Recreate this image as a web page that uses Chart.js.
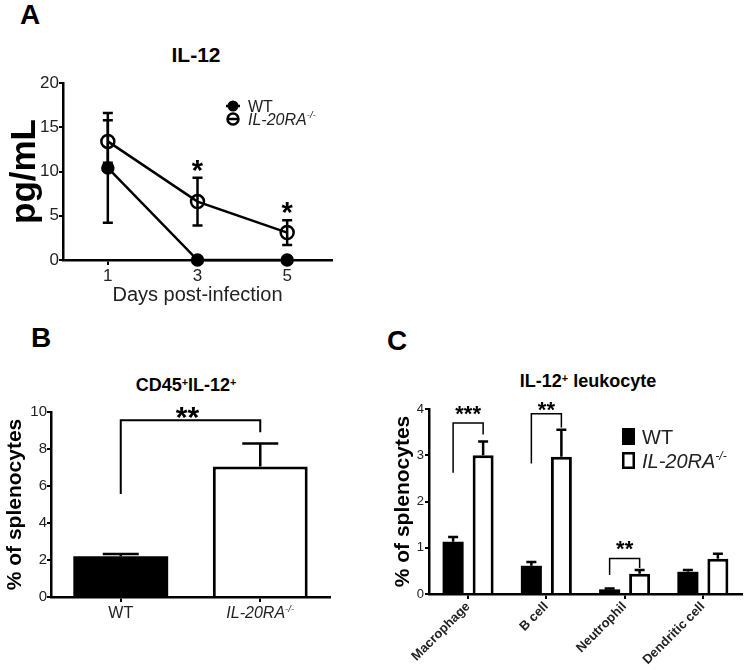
<!DOCTYPE html>
<html>
<head>
<meta charset="utf-8">
<script src="https://cdn.jsdelivr.net/npm/chart.js@4.4.1/dist/chart.umd.min.js"></script>
<style>
  body { margin: 0; background: #fff; }
  #fig { position: relative; width: 749px; height: 670px; overflow: hidden; font-family: "Liberation Sans", Arial, sans-serif; color: #000; }
  #fig canvas { position: absolute; }
  .t { position: absolute; font-weight: bold; line-height: 1; white-space: nowrap; }
  .c { transform: translateX(-50%); }
  sup { font-size: 60%; vertical-align: 0; position: relative; top: -0.5em; }
</style>
</head>
<body>
<div id="fig">
  <div class="t" style="left:20px;top:1px;font-size:28px">A</div>
  <div class="t c" style="left:196px;top:44px;font-size:21px">IL-12</div>
  <div class="t" style="left:31px;top:324px;font-size:28px">B</div>
  <div class="t c" style="left:186px;top:376px;font-size:18px">CD45<sup>+</sup>IL-12<sup>+</sup></div>
  <div class="t" style="left:387px;top:327px;font-size:28px">C</div>
  <div class="t c" style="left:588px;top:372px;font-size:18px">IL-12<sup>+</sup> leukocyte</div>
  <canvas id="chartA" width="380" height="320" style="left:0;top:0"></canvas>
  <canvas id="chartB" width="380" height="340" style="left:0;top:330px"></canvas>
  <canvas id="chartC" width="369" height="340" style="left:380px;top:330px"></canvas>
</div>
<script>
// Panel A - serum IL-12 over time
const days = [1, 3, 5];
const dayTicks = [1, 3, 5];
const wtPg = [10.4, 0, 0];
const wtPgErr = [6.2, 0, 0];
const koPg = [13.4, 6.6, 3.1];
const koPgErr = [2.4, 2.7, 1.4];
const starsA = [{ x: 3, y: 10.9 }, { x: 5, y: 6.1 }];

// Panel B - CD45+IL-12+ cells
const groupsB = ["WT", "IL-20RA"];
const pctB = [2.2, 7.05];
const pctBErr = [0.13, 1.25];
const bracketB = { top: 9.55, left: 5.57, right: 8.9, star: "**", starY: 10.1 };

// Panel C - IL-12+ leukocyte subsets
const cellTypes = ["Macrophage", "B cell", "Neutrophil", "Dendritic cell"];
const wtC = [1.13, 0.61, 0.1, 0.48];
const wtCErr = [0.1, 0.08, 0.02, 0.04];
const koC = [3.0, 2.97, 0.44, 0.76];
const koCErr = [0.3, 0.58, 0.08, 0.11];
const bracketsC = [
    { cat: 0, top: 3.7, left: 2.62, right: 3.45, star: "***", starY: 4.0 },
    { cat: 1, top: 3.9, left: 2.82, right: 3.6, star: "**", starY: 4.1 },
    { cat: 2, top: 0.77, left: 0.41, right: 0.56, star: "**", starY: 1.08 },
];

const black = "#000";
const ink = "#222";
const FONT = '"Liberation Sans", Arial, sans-serif';
Chart.defaults.font.family = FONT;
Chart.defaults.color = ink;
Chart.defaults.animation = false;
Chart.defaults.plugins.legend.display = false;
Chart.defaults.plugins.tooltip.enabled = false;

// text with italic / superscript pieces, y = baseline
function richText(ctx, x, y, parts, size, align) {
    const fontOf = (p) =>
        (p.i ? "italic " : "") + (p.b ? "bold " : "") + (p.s ? size * 0.6 : size) + "px " + FONT;
    let w = 0;
    parts.forEach((p) => { ctx.font = fontOf(p); w += ctx.measureText(p.t).width; });
    let cx = align === "center" ? x - w / 2 : align === "right" ? x - w : x;
    ctx.textAlign = "left";
    ctx.textBaseline = "alphabetic";
    parts.forEach((p) => {
        ctx.font = fontOf(p);
        ctx.fillText(p.t, cx, p.s ? y - size * 0.4 : y);
        cx += ctx.measureText(p.t).width;
    });
}
const koLabel = [{ t: "IL-20RA", i: true }, { t: "-/-", i: true, s: true }];

function star(ctx, x, yMid, text, size) {
    ctx.font = "bold " + size + "px " + FONT;
    ctx.textAlign = "center";
    ctx.textBaseline = "alphabetic";
    ctx.fillStyle = black;
    ctx.fillText(text, x, yMid + size * 0.56);
}

// error bars from dataset.errors, "up" or both directions
const errorBars = {
    id: "errorBars",
    afterDatasetsDraw(chart) {
        const ctx = chart.ctx;
        const y = chart.scales.y;
        chart.data.datasets.forEach((ds, di) => {
            if (!ds.errors) return;
            const meta = chart.getDatasetMeta(di);
            meta.data.forEach((el, i) => {
                const e = ds.errors[i];
                if (!e) return;
                const raw = ds.data[i];
                const v = typeof raw === "object" ? raw.y : raw;
                const x = el.x;
                const top = y.getPixelForValue(v + e);
                const bot = y.getPixelForValue(ds.errorMode === "up" ? v : v - e);
                const cap = ds.capWidth / 2;
                ctx.save();
                ctx.strokeStyle = black;
                ctx.lineWidth = 2.5;
                ctx.beginPath();
                ctx.moveTo(x, bot);
                ctx.lineTo(x, top);
                ctx.moveTo(x - cap, top);
                ctx.lineTo(x + cap, top);
                if (ds.errorMode !== "up") {
                    ctx.moveTo(x - cap, bot);
                    ctx.lineTo(x + cap, bot);
                }
                ctx.stroke();
                ctx.restore();
            });
        });
    },
};

function bracket(ctx, yScale, x1, x2, b, lw) {
    ctx.save();
    ctx.strokeStyle = black;
    ctx.lineWidth = lw;
    ctx.beginPath();
    ctx.moveTo(x1, yScale.getPixelForValue(b.left));
    ctx.lineTo(x1, yScale.getPixelForValue(b.top));
    ctx.lineTo(x2, yScale.getPixelForValue(b.top));
    ctx.lineTo(x2, yScale.getPixelForValue(b.right));
    ctx.stroke();
    ctx.restore();
}

const gridTicks = (len) => ({ drawOnChartArea: false, color: black, lineWidth: 2, tickLength: len, offset: false });
const axisBorder = { color: black, width: 2.5 };

// ---------- Panel A ----------
new Chart(document.getElementById("chartA"), {
    type: "line",
    data: {
        datasets: [
            {
                label: "WT",
                data: days.map((d, i) => ({ x: d, y: wtPg[i] })),
                errors: wtPgErr,
                capWidth: 10,
                borderColor: black,
                borderWidth: 2.5,
                pointRadius: 5.5,
                pointBackgroundColor: black,
                pointBorderColor: black,
                clip: false,
            },
            {
                label: "IL-20RA-/-",
                data: days.map((d, i) => ({ x: d, y: koPg[i] })),
                errors: koPgErr,
                capWidth: 10,
                borderColor: black,
                borderWidth: 2.5,
                pointRadius: 6.5,
                pointBorderWidth: 2.5,
                pointBackgroundColor: "rgba(0,0,0,0)",
                pointBorderColor: black,
                clip: false,
            },
        ],
    },
    options: {
        responsive: false,
        layout: { padding: { top: 83, right: 48, bottom: 10, left: 0 } },
        scales: {
            x: {
                type: "linear",
                min: 0,
                max: 6,
                afterBuildTicks: (s) => { s.ticks = dayTicks.map((v) => ({ value: v })); },
                afterFit: (s) => { s.height = 50; },
                grid: gridTicks(5),
                border: axisBorder,
                ticks: { font: { size: 17 }, padding: 1 },
                title: { display: true, text: "Days post-infection", font: { size: 20 }, padding: { top: 0, bottom: 3 } },
            },
            y: {
                min: 0,
                max: 20,
                afterFit: (s) => { s.width = 63; },
                grid: gridTicks(4),
                border: axisBorder,
                ticks: { stepSize: 5, font: { size: 17 }, padding: 0 },
                title: { display: true, text: "pg/mL", color: black, font: { size: 35, weight: "bold" }, padding: 4 },
            },
        },
    },
    plugins: [
        errorBars,
        {
            id: "annotA",
            afterDraw(chart) {
                const ctx = chart.ctx;
                starsA.forEach((s) => {
                    star(ctx, chart.scales.x.getPixelForValue(s.x), chart.scales.y.getPixelForValue(s.y), "*", 29);
                });
                // legend
                ctx.save();
                ctx.strokeStyle = black;
                ctx.fillStyle = black;
                ctx.lineWidth = 2.5;
                ctx.beginPath();
                ctx.arc(233, 106, 5.5, 0, Math.PI * 2);
                ctx.fill();
                ctx.beginPath();
                ctx.moveTo(226, 106);
                ctx.lineTo(240, 106);
                ctx.stroke();
                ctx.beginPath();
                ctx.arc(233, 119, 5.5, 0, Math.PI * 2);
                ctx.moveTo(228, 119);
                ctx.lineTo(238, 119);
                ctx.stroke();
                ctx.fillStyle = ink;
                richText(ctx, 248, 106 + 16 * 0.358, [{ t: "WT" }], 16, "left");
                richText(ctx, 248, 119 + 16 * 0.358, koLabel, 16, "left");
                ctx.restore();
            },
        },
    ],
});

// ---------- Panel B ----------
new Chart(document.getElementById("chartB"), {
    type: "bar",
    data: {
        labels: groupsB,
        datasets: [
            {
                data: pctB,
                errors: pctBErr,
                errorMode: "up",
                capWidth: 36,
                backgroundColor: ["#000", "#fff"],
                borderColor: black,
                borderWidth: [0, 3],
                barPercentage: 0.68,
                categoryPercentage: 1,
            },
        ],
    },
    options: {
        responsive: false,
        layout: { padding: { top: 82, right: 50, bottom: 0, left: 0 } },
        scales: {
            x: {
                afterFit: (s) => { s.height = 73; },
                grid: gridTicks(5),
                border: axisBorder,
                ticks: { display: false },
            },
            y: {
                min: 0,
                max: 10,
                afterFit: (s) => { s.width = 51; },
                grid: gridTicks(4),
                border: axisBorder,
                ticks: { stepSize: 2, font: { size: 15 }, padding: 0 },
                title: { display: true, text: "% of splenocytes", color: black, font: { size: 21, weight: "bold" }, padding: 3 },
            },
        },
    },
    plugins: [
        errorBars,
        {
            id: "annotB",
            afterDraw(chart) {
                const ctx = chart.ctx;
                const meta = chart.getDatasetMeta(0);
                const x1 = meta.data[0].x;
                const x2 = meta.data[1].x;
                bracket(ctx, chart.scales.y, x1, x2, bracketB, 2);
                star(ctx, (x1 + x2) / 2 - 3, chart.scales.y.getPixelForValue(bracketB.starY), bracketB.star, 30);
                // category labels
                const xs = chart.scales.x;
                const base = chart.chartArea.bottom + 21;
                ctx.fillStyle = ink;
                richText(ctx, xs.getPixelForValue(0), base, [{ t: groupsB[0] }], 16, "center");
                richText(ctx, xs.getPixelForValue(1), base, [{ t: groupsB[1], i: true }, { t: "-/-", i: true, s: true }], 16, "center");
            },
        },
    ],
});

// ---------- Panel C ----------
new Chart(document.getElementById("chartC"), {
    type: "bar",
    data: {
        labels: cellTypes,
        datasets: [
            {
                label: "WT",
                data: wtC,
                errors: wtCErr,
                errorMode: "up",
                capWidth: 10,
                backgroundColor: "#000",
                borderWidth: 0,
                barPercentage: 0.7,
                categoryPercentage: 0.767,
            },
            {
                label: "IL-20RA-/-",
                data: koC,
                errors: koCErr,
                errorMode: "up",
                capWidth: 10,
                backgroundColor: "#fff",
                borderColor: black,
                borderWidth: 3,
                barPercentage: 0.7,
                categoryPercentage: 0.767,
            },
        ],
    },
    options: {
        responsive: false,
        layout: { padding: { top: 79, right: 7, bottom: 0, left: 0 } },
        scales: {
            x: {
                afterFit: (s) => { s.height = 76; },
                grid: gridTicks(5),
                border: axisBorder,
                ticks: { font: { size: 13, weight: "bold" }, minRotation: 45, maxRotation: 45, autoSkip: false, padding: 0 },
            },
            y: {
                min: 0,
                max: 4,
                afterFit: (s) => { s.width = 49; },
                grid: gridTicks(4),
                border: axisBorder,
                ticks: { stepSize: 1, font: { size: 13 }, padding: 1 },
                title: { display: true, text: "% of splenocytes", color: black, font: { size: 21, weight: "bold" }, padding: 11 },
            },
        },
    },
    plugins: [
        errorBars,
        {
            id: "annotC",
            afterDraw(chart) {
                const ctx = chart.ctx;
                const y = chart.scales.y;
                const m0 = chart.getDatasetMeta(0);
                const m1 = chart.getDatasetMeta(1);
                bracketsC.forEach((b) => {
                    const x1 = m0.data[b.cat].x;
                    const x2 = m1.data[b.cat].x;
                    bracket(ctx, y, x1, x2, b, 1.5);
                    star(ctx, (x1 + x2) / 2, y.getPixelForValue(b.starY), b.star, 22);
                });
                // legend
                ctx.save();
                ctx.fillStyle = black;
                ctx.fillRect(242, 98, 13, 17);
                ctx.strokeStyle = black;
                ctx.lineWidth = 2.5;
                ctx.strokeRect(243.25, 123.25, 10.5, 14.5);
                ctx.fillStyle = ink;
                richText(ctx, 262, 106.5 + 20 * 0.358, [{ t: "WT" }], 20, "left");
                richText(ctx, 262, 130.5 + 20 * 0.358, koLabel, 20, "left");
                ctx.restore();
            },
        },
    ],
});
</script>
</body>
</html>
